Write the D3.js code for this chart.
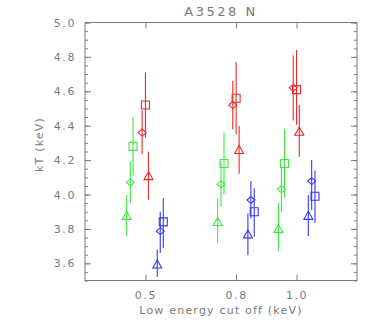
<!DOCTYPE html>
<html lang="en">
<head>
  <meta charset="UTF-8">
  <title>A3528 N</title>
  <script src="https://cdn.jsdelivr.net/npm/d3@7"></script>
  <style>
    body { margin: 0; background: #fff; }
    svg { display: block; font-family: 'DejaVu Sans', sans-serif; }
  </style>
</head>
<body>
  <script>
    // x positions are the cut off (keV) with a small offset per marker set
    const greenTri = { x: [0.438, 0.739, 0.940], y: [3.876, 3.840, 3.800], lo: [3.758, 3.720, 3.670], hi: [3.997, 3.980, 3.950] };
    const greenDia = { x: [0.450, 0.750, 0.950], y: [4.070, 4.060, 4.030], lo: [3.950, 3.930, 3.900], hi: [4.190, 4.190, 4.160] };
    const greenSq  = { x: [0.459, 0.760, 0.960], y: [4.280, 4.180, 4.180], lo: [4.110, 4.000, 3.980], hi: [4.450, 4.360, 4.380] };
    const redDia   = { x: [0.489, 0.789, 0.989], y: [4.360, 4.520, 4.620], lo: [4.235, 4.380, 4.430], hi: [4.490, 4.660, 4.810] };
    const redSq    = { x: [0.500, 0.800, 1.000], y: [4.520, 4.560, 4.610], lo: [4.330, 4.350, 4.405], hi: [4.710, 4.770, 4.840] };
    const redTri   = { x: [0.510, 0.810, 1.009], y: [4.107, 4.259, 4.365], lo: [3.970, 4.120, 4.220], hi: [4.250, 4.400, 4.520] };
    const blueTri  = { x: [0.539, 0.839, 1.039], y: [3.593, 3.768, 3.876], lo: [3.520, 3.647, 3.758], hi: [3.680, 3.890, 3.997] };
    const blueDia  = { x: [0.549, 0.849, 1.050], y: [3.787, 3.968, 4.078], lo: [3.660, 3.861, 3.910], hi: [3.900, 4.078, 4.200] };
    const blueSq   = { x: [0.559, 0.860, 1.061], y: [3.841, 3.900, 3.990], lo: [3.690, 3.754, 3.835], hi: [3.980, 4.036, 4.140] };

    const xTicks = [0.5, 0.8, 1.0];
    const xTickLabels = ["0.5", "0.8", "1.0"];
    const yTicks = [3.6, 3.8, 4.0, 4.2, 4.4, 4.6, 4.8, 5.0];
    const yMinor = d3.range(3.5, 5.001, 0.05);

    const sets = [
      [greenTri, "tri", "#3ee83e"], [greenDia, "dia", "#3ee83e"], [greenSq, "sq", "#3ee83e"],
      [redDia, "dia", "#f02828"], [redSq, "sq", "#f02828"], [redTri, "tri", "#f02828"],
      [blueTri, "tri", "#3838f0"], [blueDia, "dia", "#3838f0"], [blueSq, "sq", "#3838f0"]
    ];

    const width = 382, height = 327;
    const mLeft = 85, mRight = 357, mTop = 22.5, mBottom = 280.5;
    const gray = "#7a7a7a";

    const x = d3.scaleLinear().domain([0.3, 1.2]).range([mLeft, mRight]);
    const y = d3.scaleLinear().domain([3.5, 5.0]).range([mBottom, mTop]);

    const svg = d3.create("svg")
        .attr("width", width)
        .attr("height", height);

    // frame
    svg.append("rect")
        .attr("x", mLeft).attr("y", mTop)
        .attr("width", mRight - mLeft).attr("height", mBottom - mTop)
        .attr("fill", "none").attr("stroke", gray).attr("stroke-width", 1);

    const fmt = d => xTickLabels[xTicks.indexOf(d)];

    svg.append("g").attr("transform", `translate(0,${mBottom})`)
        .call(d3.axisBottom(x).tickValues(xTicks).tickSize(-6).tickPadding(11).tickFormat(fmt));
    svg.append("g").attr("transform", `translate(0,${mTop})`)
        .call(d3.axisTop(x).tickValues(xTicks).tickSize(-6).tickFormat(""));
    svg.append("g").attr("transform", `translate(${mLeft},0)`)
        .call(d3.axisLeft(y).tickValues(yMinor).tickSize(-3).tickFormat(""));
    svg.append("g").attr("transform", `translate(${mLeft},0)`)
        .call(d3.axisLeft(y).tickValues(yTicks).tickSize(-6).tickPadding(9).tickFormat(d3.format(".1f")));
    svg.append("g").attr("transform", `translate(${mRight},0)`)
        .call(d3.axisRight(y).tickValues(yMinor).tickSize(-3).tickFormat(""));
    svg.append("g").attr("transform", `translate(${mRight},0)`)
        .call(d3.axisRight(y).tickValues(yTicks).tickSize(-6).tickFormat(""));

    svg.selectAll(".domain").remove();
    svg.selectAll(".tick line").attr("stroke", gray);
    svg.selectAll(".tick text")
        .attr("fill", gray)
        .attr("font-size", 11)
        .attr("font-family", "'DejaVu Sans', sans-serif")
        .attr("letter-spacing", 1.6);

    // title and axis labels
    svg.append("text")
        .attr("x", (mLeft + mRight) / 2).attr("y", 16)
        .attr("text-anchor", "middle").attr("fill", gray)
        .attr("font-size", 13).attr("letter-spacing", 2.5)
        .text("A3528 N");
    svg.append("text")
        .attr("x", (mLeft + mRight) / 2).attr("y", 313.5)
        .attr("text-anchor", "middle").attr("fill", gray)
        .attr("font-size", 11).attr("letter-spacing", 1.2)
        .text("Low energy cut off (keV)");
    svg.append("text")
        .attr("transform", `translate(42.5,${(mTop + mBottom) / 2 - 7}) rotate(-90)`)
        .attr("text-anchor", "middle").attr("fill", gray)
        .attr("font-size", 11).attr("letter-spacing", 1.2)
        .text("kT (keV)");

    const markers = {
      sq: "M-4,-4H4V4H-4Z",
      dia: "M0,-3.5L4,0L0,3.5L-4,0Z",
      tri: "M0,-4.5L4.5,3.5H-4.5Z"
    };

    const plot = svg.append("g");
    sets.forEach(([s, shape, color]) => {
      const pts = s.x.map((xv, i) => ({ x: xv, y: s.y[i], lo: s.lo[i], hi: s.hi[i] }));
      const g = plot.append("g").attr("stroke", color).attr("fill", "none").attr("stroke-width", 1.1);
      g.selectAll("line")
        .data(pts)
        .join("line")
          .attr("x1", d => x(d.x)).attr("x2", d => x(d.x))
          .attr("y1", d => y(d.lo)).attr("y2", d => y(d.hi));
      g.selectAll("path")
        .data(pts)
        .join("path")
          .attr("transform", d => `translate(${x(d.x)},${y(d.y)})`)
          .attr("d", markers[shape]);
    });

    document.body.appendChild(svg.node());
  </script>
</body>
</html>
